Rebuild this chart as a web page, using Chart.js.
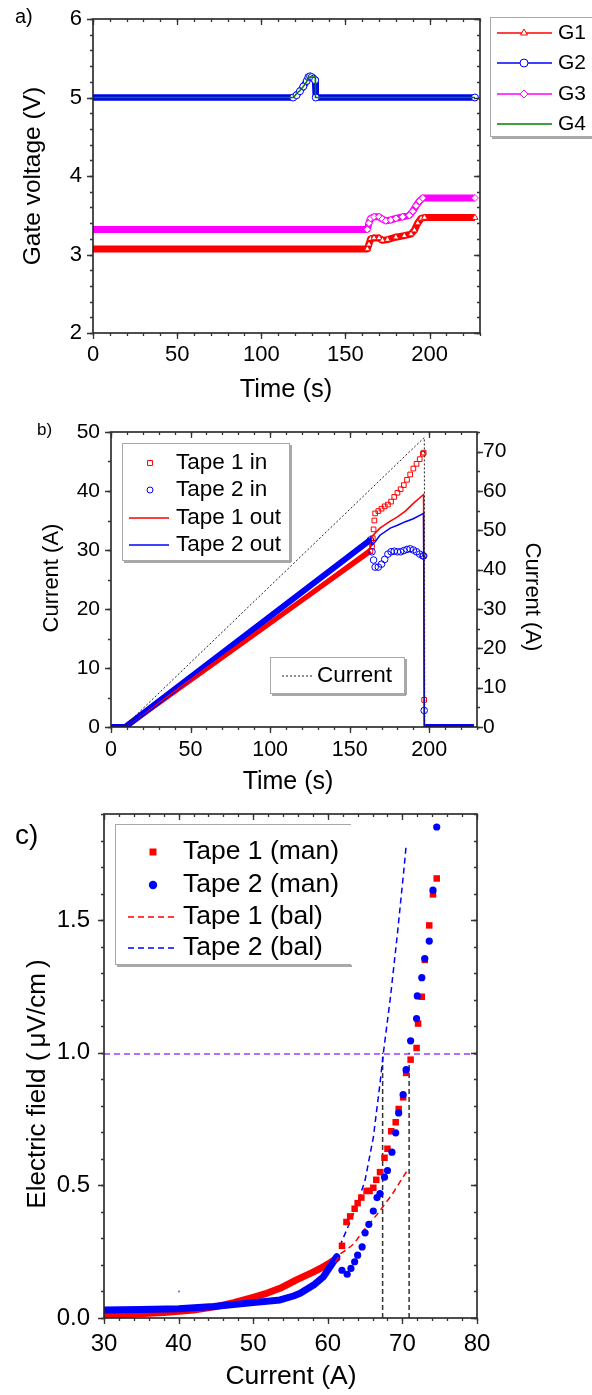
<!DOCTYPE html>
<html><head><meta charset="utf-8">
<script src="https://cdn.jsdelivr.net/npm/chart.js@4.4.1/dist/chart.umd.min.js"></script>
<style>
html,body{margin:0;padding:0;background:#fff;}
body{width:592px;height:1395px;position:relative;overflow:hidden;}
canvas{position:absolute;left:0;}
</style></head><body>
<canvas id="ca" width="592" height="410" style="top:0px"></canvas>
<canvas id="cb" width="592" height="390" style="top:410px"></canvas>
<canvas id="cc" width="592" height="595" style="top:800px"></canvas>
<script>
// ---------------- Panel a) gate voltages ----------------
const A_X_TICKS = [0, 50, 100, 150, 200];
const A_Y_TICKS = [2, 3, 4, 5, 6];
const G1_T = [0, 163, 164, 165, 167, 170, 172, 175, 180, 185, 189, 191, 193, 195, 197, 227];
const G1_V = [3.07, 3.07, 3.13, 3.20, 3.21, 3.21, 3.18, 3.19, 3.22, 3.24, 3.26, 3.31, 3.40, 3.46, 3.47, 3.47];
const G2_T = [0, 119, 121, 123, 125, 127, 128, 129, 130, 131, 132, 132.4, 227];
const G2_V = [5.0, 5.0, 5.03, 5.08, 5.14, 5.21, 5.26, 5.27, 5.26, 5.24, 5.22, 5.0, 5.0];
const G3_T = [0, 163, 164, 165, 167, 170, 172, 174, 177, 180, 184, 188, 190, 192, 194, 196, 227];
const G3_V = [3.32, 3.32, 3.40, 3.46, 3.48, 3.48, 3.45, 3.43, 3.44, 3.46, 3.48, 3.50, 3.55, 3.62, 3.68, 3.72, 3.72];
const G4_T = [0, 119.2, 121, 123, 125, 127, 128, 132.1, 132.2, 227];
const G4_V = [5.0, 5.0, 5.05, 5.09, 5.14, 5.20, 5.26, 5.26, 5.0, 5.0];
const A_LEGEND = ['G1', 'G2', 'G3', 'G4'];

// ---------------- Panel b) currents vs time ----------------
const B_X_TICKS = [0, 50, 100, 150, 200];
const B_YL_TICKS = [0, 10, 20, 30, 40, 50];
const B_YR_TICKS = [0, 10, 20, 30, 40, 50, 60, 70];
const T1_IN_T = [0, 9, 163, 164, 164.5, 165, 165.5, 166, 168, 170, 172, 174, 176, 178, 180, 182, 184, 186, 188, 190, 192, 194, 196, 196.5, 196.8, 197.5, 228];
const T1_IN_V = [0, 0, 29.8, 30.6, 32.0, 33.5, 35.0, 36.2, 36.6, 37.0, 37.4, 37.7, 38.2, 39.0, 39.7, 40.3, 41.0, 41.9, 42.8, 43.8, 44.6, 45.4, 46.3, 46.5, 4.6, 0, 0];
const T2_IN_T = [0, 9, 163, 164, 165, 166, 168, 170, 172, 174, 176, 178, 180, 182, 184, 186, 188, 190, 192, 194, 196, 196.5, 196.8, 197.5, 228];
const T2_IN_V = [0, 0, 31.7, 29.7, 28.3, 27.1, 27.1, 27.6, 28.4, 29.3, 29.7, 29.8, 29.7, 29.7, 29.9, 30.1, 30.2, 30.0, 29.7, 29.3, 29.0, 29.0, 2.8, 0, 0];
const T1_OUT_T = [0, 9, 163, 164, 169, 175, 180, 185, 190, 196.4, 196.9, 228];
const T1_OUT_V = [0, 0, 30.3, 32.3, 33.7, 34.8, 35.6, 36.6, 37.9, 39.4, 0, 0];
const T2_OUT_T = [0, 9, 163, 164, 166, 169, 175.5, 180, 185, 190, 196.4, 196.9, 228];
const T2_OUT_V = [0, 0, 32.0, 30.8, 31.4, 32.5, 33.7, 34.2, 34.8, 35.3, 36.2, 0, 0];
const CUR_T = [0, 8, 196.9, 197.2, 228];
const CUR_V = [0, 0, 73.6, 0, 0];
const B_LEGEND = ['Tape 1 in', 'Tape 2 in', 'Tape 1 out', 'Tape 2 out'];
const B_LEGEND2 = 'Current';

// ---------------- Panel c) E(I) curves ----------------
const C_X_TICKS = [30, 40, 50, 60, 70, 80];
const C_Y_TICKS = [0, 0.5, 1.0, 1.5];
const T1_BAND_I = [30, 34, 38, 42, 45, 47.4, 50, 51.8, 53.6, 55.8, 58.1, 59.4, 60.3, 61.2];
const T1_BAND_E = [0.011, 0.015, 0.021, 0.030, 0.043, 0.058, 0.078, 0.093, 0.112, 0.144, 0.174, 0.193, 0.208, 0.224];
const T2_BAND_I = [30, 35, 40, 44.7, 50, 53.6, 55.4, 56.3, 58.1, 59.4, 60.3, 61.2];
const T2_BAND_E = [0.030, 0.032, 0.035, 0.043, 0.058, 0.068, 0.083, 0.093, 0.124, 0.155, 0.193, 0.231];
const T1_MAN_I = [61.9, 62.5, 63.0, 63.6, 64.0, 64.5, 65.2, 65.6, 66.1, 66.5, 67.0, 67.6, 68.0, 68.5, 69.1, 69.5, 70.1, 70.5, 71.1, 71.9, 72.1, 72.6, 73.0, 73.6, 74.1, 74.6];
const T1_MAN_E = [0.272, 0.362, 0.383, 0.412, 0.433, 0.454, 0.479, 0.479, 0.491, 0.521, 0.550, 0.604, 0.638, 0.704, 0.738, 0.788, 0.832, 0.924, 0.974, 1.018, 1.110, 1.211, 1.350, 1.480, 1.597, 1.657];
const T2_MAN_I = [61.9, 62.6, 63.1, 63.6, 64.0, 64.6, 65.0, 65.5, 66.1, 66.6, 67.0, 67.6, 68.0, 68.6, 69.1, 69.5, 70.1, 70.5, 71.1, 71.9, 72.0, 72.6, 73.0, 73.6, 74.1, 74.6];
const T2_MAN_E = [0.180, 0.165, 0.187, 0.212, 0.237, 0.268, 0.321, 0.353, 0.403, 0.454, 0.469, 0.531, 0.556, 0.625, 0.698, 0.773, 0.842, 0.936, 1.045, 1.129, 1.214, 1.283, 1.355, 1.421, 1.613, 1.851];
const T1_BAL_I = [61.0, 61.8, 62.4, 63.5, 64.8, 66.6, 68.6, 70.8];
const T1_BAL_E = [0.21, 0.245, 0.255, 0.28, 0.33, 0.39, 0.465, 0.563];
const T2_BAL_I = [61.6, 62.5, 63.9, 65.0, 66.1, 67.0, 67.5, 68.4, 69.3, 70.2, 70.5];
const T2_BAL_E = [0.27, 0.33, 0.425, 0.52, 0.68, 0.885, 1.01, 1.21, 1.44, 1.69, 1.78];
const CRIT_I = [30, 80];
const CRIT_E = [0.995, 0.995];
const IC1_I = [67.35, 67.35];
const IC1_E = [0, 1.0];
const IC2_I = [70.9, 70.9];
const IC2_E = [0, 1.0];
const SPECK_I = [40.05];
const SPECK_E = [0.1];
const C_LEGEND = ['Tape 1 (man)', 'Tape 2 (man)', 'Tape 1 (bal)', 'Tape 2 (bal)'];

// ---------------- helpers ----------------
const FONT = '"Liberation Sans", Arial, sans-serif';
Chart.defaults.font.family = FONT;
Chart.defaults.color = '#000';
Chart.defaults.animation = false;
const RED = '#ff0000', BLUE = '#0000ff', MAG = '#ff00ff', GREEN = '#008000';

function pts(xs, ys) { return xs.map((x, i) => ({ x: x, y: ys[i] })); }
function steps(a, b, st) { const r = []; for (let k = 0; a + k * st <= b + 1e-9; k++) r.push(+(a + k * st).toFixed(6)); return r; }
function zeroPad(s) { s.paddingTop = 0; s.paddingBottom = 0; s.paddingLeft = 0; s.paddingRight = 0; }
function axisX(min, max, ticks, size, pad, h, cb) {
  return { type: 'linear', position: 'bottom', min: min, max: max,
    afterBuildTicks: s => { s.ticks = ticks.map(v => ({ value: v })); },
    afterFit: s => { s.height = h; zeroPad(s); },
    ticks: { font: { size: size }, padding: pad, autoSkip: false, maxRotation: 0, minRotation: 0, callback: cb || (v => String(v)) },
    grid: { display: false, drawTicks: false }, border: { display: false } };
}
function axisY(min, max, ticks, size, pad, w, pos, cb) {
  return { type: 'linear', position: pos, min: min, max: max,
    afterBuildTicks: s => { s.ticks = ticks.map(v => ({ value: v })); },
    afterFit: s => { s.width = w; zeroPad(s); },
    ticks: { font: { size: size }, padding: pad, autoSkip: false, callback: cb || (v => String(v)) },
    grid: { display: false, drawTicks: false }, border: { display: false } };
}
function marks(chart, sid, side, vals, len, outward) {
  const ctx = chart.ctx, A = chart.chartArea, s = chart.scales[sid];
  ctx.beginPath();
  vals.forEach(v => {
    const p = Math.round(s.getPixelForValue(v)) + 0.5;
    if (side === 'bottom') { ctx.moveTo(p, A.bottom); ctx.lineTo(p, A.bottom + (outward ? len : -len)); }
    if (side === 'top') { ctx.moveTo(p, A.top); ctx.lineTo(p, A.top + (outward ? -len : len)); }
    if (side === 'left') { ctx.moveTo(A.left, p); ctx.lineTo(A.left + (outward ? -len : len), p); }
    if (side === 'right') { ctx.moveTo(A.right, p); ctx.lineTo(A.right + (outward ? len : -len), p); }
  });
  ctx.stroke();
}
function frame(chart) {
  const ctx = chart.ctx, A = chart.chartArea;
  ctx.save(); ctx.strokeStyle = '#222'; ctx.lineWidth = 1.6;
  ctx.strokeRect(A.left, A.top, A.right - A.left, A.bottom - A.top);
  ctx.restore();
}
function txt(ctx, s, x, y, size, align, rot) {
  ctx.save(); ctx.font = size + 'px ' + FONT; ctx.fillStyle = '#000';
  ctx.textAlign = align || 'center'; ctx.textBaseline = 'middle';
  ctx.translate(x, y); if (rot) ctx.rotate(rot); ctx.fillText(s, 0, 0); ctx.restore();
}
function sym(ctx, style, x, y, r, stroke, fill) {
  ctx.save(); ctx.strokeStyle = stroke; ctx.fillStyle = fill; ctx.lineWidth = 1;
  Chart.helpers.drawPoint(ctx, { pointStyle: style, radius: r, rotation: 0, borderWidth: 1 }, x, y);
  ctx.restore();
}
function hline(ctx, x1, x2, y, color, w, dash) {
  ctx.save(); ctx.strokeStyle = color; ctx.lineWidth = w; ctx.setLineDash(dash || []);
  ctx.beginPath(); ctx.moveTo(x1, y); ctx.lineTo(x2, y); ctx.stroke(); ctx.restore();
}
function box(ctx, x, y, w, h, sides) {
  ctx.save(); ctx.strokeStyle = '#a8a8a8'; ctx.lineWidth = 1;
  ctx.beginPath();
  if (sides.t) { ctx.moveTo(x, y + 0.5); ctx.lineTo(x + w, y + 0.5); }
  if (sides.l) { ctx.moveTo(x + 0.5, y); ctx.lineTo(x + 0.5, y + h); }
  if (sides.r) { ctx.moveTo(x + w - 0.5, y); ctx.lineTo(x + w - 0.5, y + h); }
  if (sides.b) { ctx.moveTo(x, y + h - 0.5); ctx.lineTo(x + w, y + h - 0.5); }
  ctx.stroke();
  ctx.strokeStyle = '#8c8c8c'; ctx.lineWidth = 1.5; ctx.beginPath();
  if (sides.b) { ctx.moveTo(x + 2, y + h + 1); ctx.lineTo(x + w + 1, y + h + 1); }
  if (sides.r) { ctx.moveTo(x + w + 1, y + 2); ctx.lineTo(x + w + 1, y + h + 1); }
  ctx.stroke(); ctx.restore();
}

// ---------------- Chart a ----------------
const ptA = c => (c.dataIndex === 0 ? 0 : 3.5);
new Chart(document.getElementById('ca'), {
  type: 'line',
  data: { datasets: [
    { label: 'G4', data: pts(G4_T, G4_V), borderColor: GREEN, borderWidth: 1.5, pointRadius: 0, order: 0 },
    { label: 'G2', data: pts(G2_T, G2_V), borderColor: BLUE, borderWidth: 6.5, borderJoinStyle: 'round', pointStyle: 'circle', pointRadius: ptA, pointBorderColor: BLUE, pointBackgroundColor: '#fff', pointBorderWidth: 1, order: 1 },
    { label: 'G3', data: pts(G3_T, G3_V), borderColor: MAG, borderWidth: 7, borderJoinStyle: 'round', pointStyle: 'rectRot', pointRadius: ptA, pointBorderColor: MAG, pointBackgroundColor: '#fff', pointBorderWidth: 1, order: 2 },
    { label: 'G1', data: pts(G1_T, G1_V), borderColor: RED, borderWidth: 7, borderJoinStyle: 'round', pointStyle: 'triangle', pointRadius: ptA, pointBorderColor: RED, pointBackgroundColor: '#fff', pointBorderWidth: 1, order: 3 }
  ] },
  options: {
    responsive: false, devicePixelRatio: 1, parsing: true,
    layout: { padding: { top: 19, right: 112, left: 0, bottom: 0 } },
    plugins: { legend: { display: false }, tooltip: { enabled: false } },
    scales: { x: axisX(0, 230, A_X_TICKS, 22, 9, 77), y: axisY(2, 6, A_Y_TICKS, 22, 11, 93, 'left') }
  },
  plugins: [{ id: 'decoA', afterDraw(chart) {
    const ctx = chart.ctx;
    frame(chart);
    ctx.save(); ctx.strokeStyle = '#333'; ctx.lineWidth = 1.3;
    marks(chart, 'x', 'bottom', A_X_TICKS, 6, true); marks(chart, 'x', 'bottom', steps(0, 230, 10), 3, true);
    marks(chart, 'x', 'top', A_X_TICKS, 6, false); marks(chart, 'x', 'top', steps(0, 230, 10), 3, false);
    marks(chart, 'y', 'left', A_Y_TICKS, 6, true); marks(chart, 'y', 'left', steps(2, 6, 0.2), 3, true);
    marks(chart, 'y', 'right', A_Y_TICKS, 6, false); marks(chart, 'y', 'right', steps(2, 6, 0.2), 3, false);
    ctx.restore();
    txt(ctx, 'a)', 15, 17, 20, 'left');
    txt(ctx, 'Gate voltage (V)', 33, 176, 24.5, 'center', -Math.PI / 2);
    txt(ctx, 'Time (s)', 286, 390, 25.5);
    // legend
    box(ctx, 490, 17, 120, 120, { t: 1, l: 1, b: 1 });
    const ys = [33, 63, 94, 124], cols = [RED, BLUE, MAG, GREEN], st = ['triangle', 'circle', 'rectRot', null];
    A_LEGEND.forEach((lab, i) => {
      hline(ctx, 497, 552, ys[i], cols[i], 1.5);
      if (st[i]) sym(ctx, st[i], 524, ys[i], 4, cols[i], '#fff');
      txt(ctx, lab, 558, ys[i], 21, 'left');
    });
  } }]
});

// ---------------- Chart b ----------------
const inSeg = col => ({ borderColor: c => (c.p0.parsed.x >= 163 && c.p0.parsed.x < 197.5) ? 'rgba(0,0,0,0)' : col });
const inRad = c => { const x = c.raw && c.raw.x; return (x >= 163 && x <= 196.9) ? 3.3 : 0; };
new Chart(document.getElementById('cb'), {
  type: 'line',
  data: { datasets: [
    { label: 'Current', data: pts(CUR_T, CUR_V), yAxisID: 'y2', borderColor: '#222', borderWidth: 1, borderDash: [2, 2], pointRadius: 0, order: 0 },
    { label: 'Tape 2 out', data: pts(T2_OUT_T, T2_OUT_V), yAxisID: 'y', borderColor: BLUE, borderWidth: 1.5, pointRadius: 0, order: 1 },
    { label: 'Tape 1 out', data: pts(T1_OUT_T, T1_OUT_V), yAxisID: 'y', borderColor: RED, borderWidth: 1.5, pointRadius: 0, order: 2 },
    { label: 'Tape 2 in', data: pts(T2_IN_T, T2_IN_V), yAxisID: 'y', borderColor: BLUE, borderWidth: 6, segment: inSeg(BLUE), pointStyle: 'circle', pointRadius: inRad, pointBorderColor: BLUE, pointBackgroundColor: 'rgba(255,255,255,0)', pointBorderWidth: 1, order: 3 },
    { label: 'Tape 1 in', data: pts(T1_IN_T, T1_IN_V), yAxisID: 'y', borderColor: RED, borderWidth: 5, segment: inSeg(RED), pointStyle: 'rect', pointRadius: inRad, pointBorderColor: RED, pointBackgroundColor: 'rgba(255,255,255,0)', pointBorderWidth: 1, order: 4 }
  ] },
  options: {
    responsive: false, devicePixelRatio: 1,
    layout: { padding: { top: 22, right: 0, left: 0, bottom: 0 } },
    plugins: { legend: { display: false }, tooltip: { enabled: false } },
    scales: {
      x: axisX(0, 230, B_X_TICKS, 21.5, 10, 73),
      y: axisY(0, 50, B_YL_TICKS, 21, 11, 111, 'left'),
      y2: axisY(0, 75, B_YR_TICKS, 21, 6, 115, 'right')
    }
  },
  plugins: [{ id: 'decoB', afterDraw(chart) {
    const ctx = chart.ctx;
    frame(chart);
    ctx.save(); ctx.strokeStyle = '#333'; ctx.lineWidth = 1.3;
    marks(chart, 'x', 'bottom', B_X_TICKS, 6, true); marks(chart, 'x', 'bottom', steps(0, 230, 10), 3, true);
    marks(chart, 'x', 'top', B_X_TICKS, 6, false); marks(chart, 'x', 'top', steps(0, 230, 10), 3, false);
    marks(chart, 'y', 'left', B_YL_TICKS, 6, true); marks(chart, 'y', 'left', steps(0, 50, 5), 3, true);
    marks(chart, 'y2', 'right', B_YR_TICKS, 6, true); marks(chart, 'y2', 'right', steps(0, 75, 5), 3, true);
    ctx.restore();
    txt(ctx, 'b)', 37, 20, 17, 'left');
    txt(ctx, 'Current (A)', 52, 168, 22, 'center', -Math.PI / 2);
    txt(ctx, 'Current (A)', 532, 187, 22, 'center', Math.PI / 2);
    txt(ctx, 'Time (s)', 288, 372, 25);
    box(ctx, 122, 33, 168, 118, { t: 1, l: 1, r: 1, b: 1 });
    const ys = [53, 80, 108, 135];
    sym(ctx, 'rect', 150, ys[0], 3.5, RED, 'rgba(255,255,255,0)');
    sym(ctx, 'circle', 150, ys[1], 3, BLUE, 'rgba(255,255,255,0)');
    hline(ctx, 129, 169, ys[2], RED, 1.5);
    hline(ctx, 129, 169, ys[3], BLUE, 1.5);
    B_LEGEND.forEach((lab, i) => txt(ctx, lab, 176, ys[i], 22.5, 'left'));
    box(ctx, 270, 247, 135, 37, { t: 1, l: 1, r: 1, b: 1 });
    hline(ctx, 282, 313, 266, '#222', 1, [2, 2]);
    txt(ctx, B_LEGEND2, 317, 266, 22.5, 'left');
  } }]
});

// ---------------- Chart c ----------------
new Chart(document.getElementById('cc'), {
  type: 'line',
  data: { datasets: [
    { label: 'Tape 2 (man)', data: pts(T2_MAN_I, T2_MAN_E), showLine: false, pointStyle: 'circle', pointRadius: 3.6, pointBackgroundColor: BLUE, pointBorderColor: BLUE, pointBorderWidth: 0, order: 0 },
    { label: 'Tape 1 (man)', data: pts(T1_MAN_I, T1_MAN_E), showLine: false, pointStyle: 'rect', pointRadius: 4.6, pointBackgroundColor: RED, pointBorderColor: RED, pointBorderWidth: 0, order: 1 },
    { label: 'Tape 2 (bal)', data: pts(T2_BAL_I, T2_BAL_E), borderColor: BLUE, borderWidth: 1.5, borderDash: [6, 4], pointRadius: 0, order: 2 },
    { label: 'Tape 1 (bal)', data: pts(T1_BAL_I, T1_BAL_E), borderColor: RED, borderWidth: 1.5, borderDash: [6, 4], pointRadius: 0, order: 3 },
    { label: 'Ic1', data: pts(IC1_I, IC1_E), borderColor: '#333', borderWidth: 1.5, borderDash: [5, 3], pointRadius: 0, order: 4 },
    { label: 'Ic2', data: pts(IC2_I, IC2_E), borderColor: '#333', borderWidth: 1.5, borderDash: [5, 3], pointRadius: 0, order: 5 },
    { label: 'Tape 2 band', data: pts(T2_BAND_I, T2_BAND_E), borderColor: BLUE, borderWidth: 7, borderCapStyle: 'round', borderJoinStyle: 'round', pointRadius: 0, order: 6 },
    { label: 'Tape 1 band', data: pts(T1_BAND_I, T1_BAND_E), borderColor: RED, borderWidth: 7, borderCapStyle: 'round', borderJoinStyle: 'round', pointRadius: 0, order: 7 },
    { label: 'Ec', data: pts(CRIT_I, CRIT_E), borderColor: '#9a3cff', borderWidth: 1.5, borderDash: [6, 4], pointRadius: 0, order: 8 },
    { label: 'speck', data: pts(SPECK_I, SPECK_E), showLine: false, pointRadius: 1, pointBackgroundColor: '#9a3cff', pointBorderWidth: 0, order: 9 }
  ] },
  options: {
    responsive: false, devicePixelRatio: 1,
    layout: { padding: { top: 14, right: 115, left: 0, bottom: 0 } },
    plugins: { legend: { display: false }, tooltip: { enabled: false } },
    scales: {
      x: axisX(30, 80, C_X_TICKS, 24, 12, 77),
      y: axisY(0, 1.9, C_Y_TICKS, 24, 14, 104, 'left', v => Number(v).toFixed(1))
    }
  },
  plugins: [{ id: 'decoC', afterDraw(chart) {
    const ctx = chart.ctx;
    frame(chart);
    ctx.save(); ctx.strokeStyle = '#333'; ctx.lineWidth = 1.3;
    marks(chart, 'x', 'bottom', C_X_TICKS, 6, true); marks(chart, 'x', 'bottom', steps(30, 80, 2), 3, true);
    marks(chart, 'x', 'top', C_X_TICKS, 6, false); marks(chart, 'x', 'top', steps(30, 80, 2), 3, false);
    marks(chart, 'y', 'left', C_Y_TICKS, 6, true); marks(chart, 'y', 'left', steps(0, 1.9, 0.1), 3, true);
    marks(chart, 'y', 'right', C_Y_TICKS, 6, false); marks(chart, 'y', 'right', steps(0, 1.9, 0.1), 3, false);
    ctx.restore();
    txt(ctx, 'c)', 15, 36, 28, 'left');
    txt(ctx, 'Electric field (\u2009\u03bcV/cm\u2009)', 38, 284, 26, 'center', -Math.PI / 2);
    txt(ctx, 'Current (A)', 291, 577, 26.5);
    box(ctx, 115, 24, 236, 141, { t: 1, l: 1, b: 1 });
    const ys = [52, 85, 117, 148];
    ctx.save(); ctx.fillStyle = RED; ctx.fillRect(149.5, ys[0] - 3.5, 7, 7);
    ctx.fillStyle = BLUE; ctx.beginPath(); ctx.arc(153, ys[1], 4.2, 0, Math.PI * 2); ctx.fill(); ctx.restore();
    hline(ctx, 128, 177, ys[2], RED, 1.5, [6, 4]);
    hline(ctx, 128, 177, ys[3], BLUE, 1.5, [6, 4]);
    C_LEGEND.forEach((lab, i) => txt(ctx, lab, 183, ys[i], 26.5, 'left'));
  } }]
});
</script>
</body></html>
